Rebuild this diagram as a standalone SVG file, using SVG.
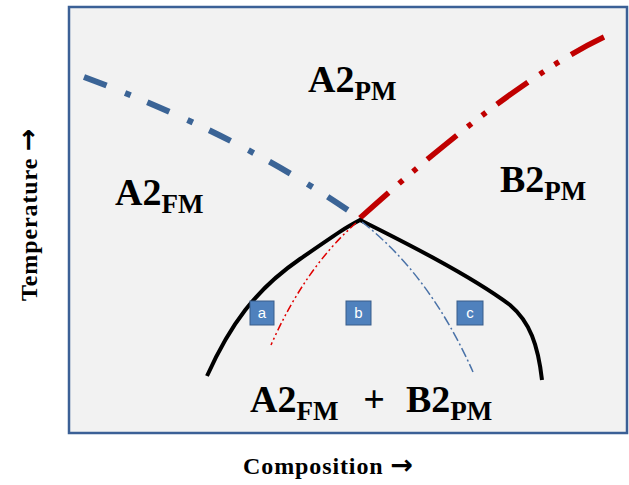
<svg xmlns="http://www.w3.org/2000/svg" width="629" height="485" viewBox="0 0 629 485">
<style>
.lbl{font-family:"Liberation Serif","Times New Roman",serif;font-weight:bold;fill:#000;}
.main{font-size:38px;}
.sub{font-size:27px;}
.axis{font-size:24px;letter-spacing:0.9px;}
.arr{font-family:"DejaVu Sans",sans-serif;font-weight:bold;font-size:27px;letter-spacing:0;}
.box rect{fill:#4f81bd;stroke:#385d8a;stroke-width:1;}
.box text{font-family:"Liberation Sans",Arial,sans-serif;font-size:15px;fill:#fff;text-anchor:middle;}
.curve{fill:none;}
</style>
<rect x="0" y="0" width="629" height="485" fill="#ffffff"/>
<g id="frame">
<rect x="69" y="7" width="558" height="426" fill="#f2f2f2" stroke="#3b6096" stroke-width="2.5"/>
</g>
<g id="connectors">
<path id="blue-thick" class="curve" d="M84,77 Q240,135 355,215" stroke="#3b6496" stroke-width="6" stroke-dasharray="24 20 6 18"/>
<path id="red-thick" class="curve" d="M360,218 Q512,81 604,37" stroke="#c00000" stroke-width="5.5" stroke-dasharray="38 14 5 13 5 14"/>
<path id="black-dome" class="curve" d="M207,376 C230,325 255,290 300,259 S345,228 360,220 C400,240 470,275 510,305 C530,322 538,345 542,380" stroke="#000" stroke-width="4" stroke-linejoin="miter"/>
<path id="red-thin" class="curve" d="M356,223 Q305,268 271,345" stroke="#e00000" stroke-width="1.5" stroke-dasharray="8 3 2 3 2 3"/>
<path id="blue-thin" class="curve" d="M362,222 Q430,275 473,372" stroke="#4a72a8" stroke-width="1.5" stroke-dasharray="10 3 2 3"/>
</g>
<g id="label-a2pm">
<text class="lbl main" x="308" y="92">A2<tspan class="sub" dy="8">PM</tspan></text>
</g>
<g id="label-a2fm">
<text class="lbl main" x="115" y="205">A2<tspan class="sub" dy="8">FM</tspan></text>
</g>
<g id="label-b2pm">
<text class="lbl main" x="500" y="192">B2<tspan class="sub" dy="8">PM</tspan></text>
</g>
<g id="label-mix">
<text class="lbl main" x="250" y="412">A2<tspan class="sub" dy="8">FM</tspan></text>
<text class="lbl main" x="374" y="412" text-anchor="middle">+</text>
<text class="lbl main" x="406" y="412">B2<tspan class="sub" dy="8">PM</tspan></text>
</g>
<g id="box-a" class="box"><rect x="250" y="301" width="24" height="24"/><text x="262" y="318">a</text></g>
<g id="box-b" class="box"><rect x="346" y="301" width="25" height="24"/><text x="358.5" y="318">b</text></g>
<g id="box-c" class="box"><rect x="457" y="301" width="26" height="24"/><text x="470" y="318">c</text></g>
<g id="axis-x">
<text class="lbl axis" x="243" y="474">Composition <tspan class="arr">→</tspan></text>
</g>
<g id="axis-y">
<text class="lbl axis" transform="translate(37,301) rotate(-90)">Temperature <tspan class="arr">→</tspan></text>
</g>
</svg>
